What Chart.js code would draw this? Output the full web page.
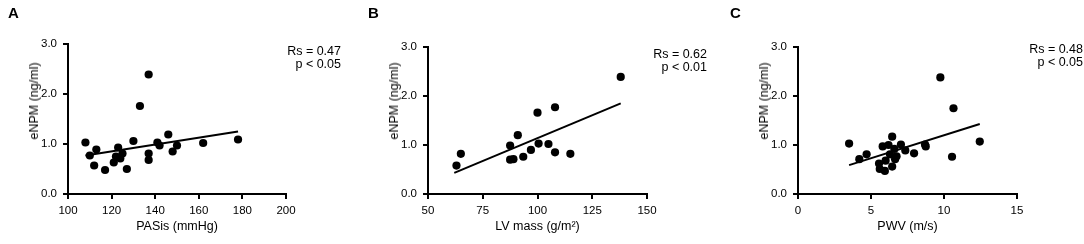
<!DOCTYPE html>
<html>
<head>
<meta charset="utf-8">
<script src="https://cdn.jsdelivr.net/npm/chart.js@4.4.1/dist/chart.umd.min.js"></script>
<style>
  body { margin: 0; width: 1084px; height: 244px; background: #fff; position: relative; overflow: hidden;
         font-family: "Liberation Sans", Arial, sans-serif; color: #000; }
  canvas { position: absolute; top: 0; }
  .letter { position: absolute; font-weight: bold; font-size: 15px; line-height: 1; }
  .stat { position: absolute; font-size: 12.5px; line-height: 13px; text-align: right; white-space: nowrap; }
  .ytitle { position: absolute; font-size: 12.5px; white-space: nowrap; transform: translate(-50%, -50%) rotate(-90deg); }
</style>
</head>
<body>
<canvas id="chartA" width="360" height="244" style="left:0px"></canvas>
<canvas id="chartB" width="360" height="244" style="left:360px"></canvas>
<canvas id="chartC" width="354" height="244" style="left:730px"></canvas>

<div class="letter" style="left:8px;top:5px">A</div>
<div class="letter" style="left:368px;top:5px">B</div>
<div class="letter" style="left:730px;top:5px">C</div>

<div class="stat" style="right:743px;top:45px">Rs = 0.47<br>p &lt; 0.05</div>
<div class="stat" style="right:377px;top:48px">Rs = 0.62<br>p &lt; 0.01</div>
<div class="stat" style="right:1px;top:43px">Rs = 0.48<br>p &lt; 0.05</div>

<div class="ytitle" style="left:34px;top:101px">eNPM (ng/ml)</div>
<div class="ytitle" style="left:394px;top:101px">eNPM (ng/ml)</div>
<div class="ytitle" style="left:764px;top:101px">eNPM (ng/ml)</div>

<script>
// Panel A - PASis vs eNPM
const pasisX = [108, 110, 112, 113, 117, 121, 122, 123, 124, 125, 127, 130, 133, 137, 137, 137, 141, 142, 146, 148, 150, 162, 178];
const pasisY = [1.03, 0.77, 0.57, 0.89, 0.48, 0.63, 0.75, 0.93, 0.71, 0.81, 0.50, 1.06, 1.76, 2.39, 0.81, 0.68, 1.03, 0.97, 1.19, 0.85, 0.97, 1.02, 1.09];
const pasisLineX = [108, 178];
const pasisLineY = [0.77, 1.25];
const pasisTicks = [100, 200, 20];

// Panel B - LV mass vs eNPM
const lvX = [63, 65, 87.5, 87.5, 89, 91, 93.5, 97, 100, 100.5, 105, 108, 108, 115, 138];
const lvY = [0.58, 0.82, 0.99, 0.70, 0.71, 1.20, 0.76, 0.90, 1.66, 1.03, 1.02, 1.77, 0.85, 0.82, 2.39];
const lvLineX = [62, 138];
const lvLineY = [0.43, 1.85];
const lvTicks = [50, 150, 25];

// Panel C - PWV vs eNPM
const pwvX = [3.5, 4.2, 4.7, 5.55, 5.6, 5.8, 5.95, 6.0, 6.2, 6.3, 6.45, 6.45, 6.6, 6.65, 6.75, 7.05, 7.35, 7.95, 8.7, 8.75, 9.75, 10.55, 10.65, 12.45];
const pwvY = [1.03, 0.71, 0.81, 0.62, 0.51, 0.97, 0.47, 0.68, 1.00, 0.81, 1.17, 0.56, 0.92, 0.71, 0.77, 1.01, 0.89, 0.83, 1.01, 0.97, 2.38, 0.76, 1.75, 1.07];
const pwvLineX = [3.5, 12.45];
const pwvLineY = [0.59, 1.43];
const pwvTicks = [0, 15, 5];

const yTicks = [0, 3, 1];

const toPoints = (xs, ys) => xs.map((x, i) => ({ x: x, y: ys[i] }));

const axisStyle = {
  grid: { display: true, drawOnChartArea: false, drawTicks: true, tickLength: 5, color: '#000', lineWidth: 2 },
  border: { display: true, color: '#000', width: 2 }
};

function makeChart(id, xs, ys, lx, ly, xt, xTitle, top, right) {
  return new Chart(document.getElementById(id), {
    type: 'scatter',
    data: {
      datasets: [
        {
          data: toPoints(xs, ys),
          pointRadius: 4.1,
          pointBackgroundColor: '#000',
          pointBorderWidth: 0
        },
        {
          data: toPoints(lx, ly),
          showLine: true,
          pointRadius: 0,
          borderColor: '#000',
          borderWidth: 2
        }
      ]
    },
    options: {
      responsive: false,
      animation: false,
      layout: { padding: { left: 0, right: right, top: top, bottom: 0 } },
      plugins: { legend: { display: false }, tooltip: { enabled: false } },
      scales: {
        x: {
          type: 'linear',
          min: xt[0], max: xt[1],
          ...axisStyle,
          ticks: { stepSize: xt[2], color: '#000', padding: 5, font: { family: 'Liberation Sans', size: 11.5 } },
          title: { display: true, text: xTitle, color: '#000', padding: { top: 0, bottom: 10 },
                   font: { family: 'Liberation Sans', size: 12.5 } },
          afterFit: (s) => { s.height = 50; }
        },
        y: {
          type: 'linear',
          min: yTicks[0], max: yTicks[1],
          ...axisStyle,
          ticks: { stepSize: yTicks[2], color: '#000', padding: 6, font: { family: 'Liberation Sans', size: 11.5 },
                   callback: (v) => v.toFixed(1) },
          afterFit: (s) => { s.width = 68; }
        }
      }
    }
  });
}

makeChart('chartA', pasisX, pasisY, pasisLineX, pasisLineY, pasisTicks, 'PASis (mmHg)', 44, 74);
makeChart('chartB', lvX, lvY, lvLineX, lvLineY, lvTicks, 'LV mass (g/m\u00b2)', 47, 73);
makeChart('chartC', pwvX, pwvY, pwvLineX, pwvLineY, pwvTicks, 'PWV (m/s)', 47, 67);
</script>
</body>
</html>
